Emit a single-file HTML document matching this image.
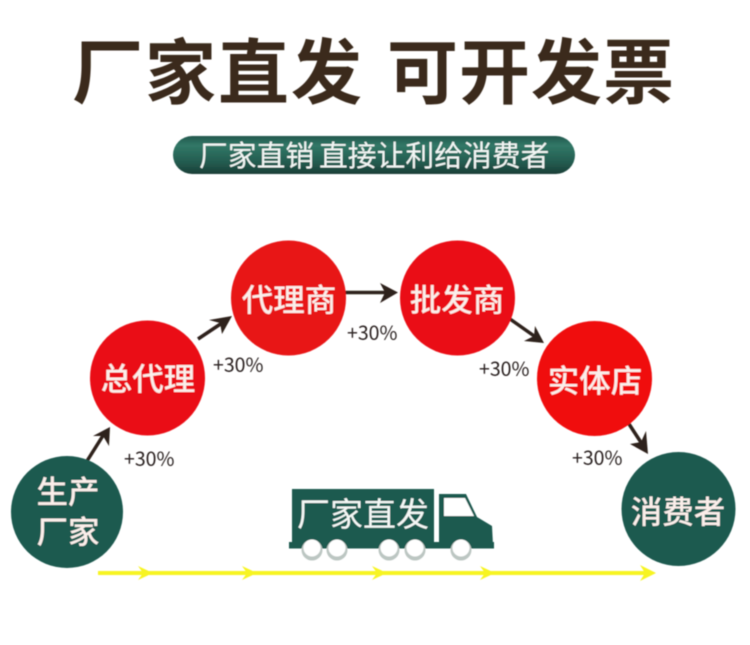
<!DOCTYPE html>
<html lang="zh">
<head>
<meta charset="utf-8">
<style>
html,body{margin:0;padding:0;background:#fff;width:750px;height:645px;overflow:hidden}
svg{display:block}
text{font-family:"Liberation Sans","Noto Sans CJK SC",sans-serif}
</style>
</head>
<body>
<svg xmlns="http://www.w3.org/2000/svg" width="750" height="645" viewBox="0 0 750 645">
<defs>
<linearGradient id="pill" x1="0" y1="0" x2="0" y2="1">
<stop offset="0" stop-color="#23584d"/>
<stop offset="0.25" stop-color="#317867"/>
<stop offset="0.7" stop-color="#235b4f"/>
<stop offset="1" stop-color="#1b3f38"/>
</linearGradient>
<filter id="soft" x="-5%" y="-5%" width="110%" height="110%"><feGaussianBlur stdDeviation="0.5"/></filter>
</defs>
<rect width="750" height="645" fill="#fff"/>

<g filter="url(#soft)">
<!-- Title -->
<text x="72" y="98" font-size="71" font-weight="700" letter-spacing="2" fill="#3a2a1c">厂家直发</text>
<text x="387" y="98" font-size="71" font-weight="700" letter-spacing="1" fill="#3a2a1c">可开发票</text>

<!-- Pill -->
<rect x="173" y="136" width="402" height="38" rx="19" fill="url(#pill)"/>
<text x="199" y="166" font-size="28.800" font-weight="400" fill="#f2f6f4">厂家直销</text>
<text x="319" y="166" font-size="28.800" font-weight="400" fill="#f2f6f4">直接让利给消费者</text>

<!-- Arrows -->
<g stroke="#2e211a" stroke-width="3.5" fill="none">
<line x1="87" y1="461" x2="104" y2="434"/>
<line x1="198" y1="339" x2="225" y2="321"/>
<line x1="345" y1="292.500" x2="392" y2="292.500"/>
<line x1="510" y1="319" x2="537" y2="338"/>
<line x1="629" y1="424" x2="644" y2="447"/>
</g>
<g fill="#2e211a">
<polygon points="110,427 109,446 103,436 93,436"/>
<polygon points="232,316 222,334 220,323 209,320"/>
<polygon points="398,292.500 380,283 385,292.500 380,303"/>
<polygon points="544,343 524,341 534,336 535,326"/>
<polygon points="648,454 630,444 641,442 646,431"/>
</g>

<!-- Circles -->
<circle cx="147.500" cy="378" r="57.500" fill="#ea1014"/>
<circle cx="288.500" cy="298" r="57.500" fill="#e81215"/>
<circle cx="457.500" cy="298" r="57.500" fill="#ea1014"/>
<circle cx="594.500" cy="378.500" r="57.500" fill="#f00c0e"/>
<g fill="#1e5a50">
<circle cx="67" cy="512" r="56"/>
<circle cx="678.500" cy="509" r="57"/>
</g>

<!-- Circle labels -->
<g font-size="31.500" font-weight="500" fill="#fbeeea" text-anchor="middle">
<text x="148" y="390">总代理</text>
<text x="289" y="311">代理商</text>
<text x="457" y="311">批发商</text>
<text x="595" y="392">实体店</text>
<text x="68" y="503">生产</text>
<text x="68" y="543">厂家</text>
<text x="678" y="523">消费者</text>
</g>

<!-- Percent labels -->
<g font-size="19.500" fill="#2b2320">
<text x="124" y="466" style="font-family:'Noto Sans CJK SC',sans-serif">+30%</text>
<text x="213" y="372" style="font-family:'Noto Sans CJK SC',sans-serif">+30%</text>
<text x="347" y="340" style="font-family:'Noto Sans CJK SC',sans-serif">+30%</text>
<text x="479" y="376" style="font-family:'Noto Sans CJK SC',sans-serif">+30%</text>
<text x="572" y="465" style="font-family:'Noto Sans CJK SC',sans-serif">+30%</text>
</g>

<!-- Truck -->
<rect x="292" y="489" width="142" height="56" fill="#1e5a50"/>
<rect x="289" y="542" width="205" height="6.500" fill="#1e5a50"/>
<polygon points="439,494 466,494 477,517 492,526 493,545 439,545" fill="#1e5a50"/>
<polygon points="444,498 465,498 474,516 444,516" fill="#fff"/>
<g fill="#bcc6c2">
<circle cx="312" cy="550" r="10.500"/>
<circle cx="337" cy="550" r="10.500"/>
<circle cx="389" cy="550" r="10.500"/>
<circle cx="415" cy="550" r="10.500"/>
<circle cx="461" cy="550" r="10.500"/>
</g>
<g fill="#fff">
<circle cx="312" cy="548" r="8.500"/>
<circle cx="337" cy="548" r="8.500"/>
<circle cx="389" cy="548" r="8.500"/>
<circle cx="415" cy="548" r="8.500"/>
<circle cx="461" cy="548" r="8.500"/>
</g>
<text x="297" y="526" font-size="33" font-weight="400" fill="#f4f8f6">厂家直发</text>

<!-- Yellow line -->
<rect x="98" y="571" width="550" height="4" fill="#f7f424"/>
<g fill="#f7f424">
<polygon points="153,573 138,566 143,573 138,580"/>
<polygon points="257,573 242,566 247,573 242,580"/>
<polygon points="387,573 372,566 377,573 372,580"/>
<polygon points="495,573 480,566 485,573 480,580"/>
<polygon points="656,573 640,565 645,573 640,581"/>
</g>
</g>
</svg>
</body>
</html>
